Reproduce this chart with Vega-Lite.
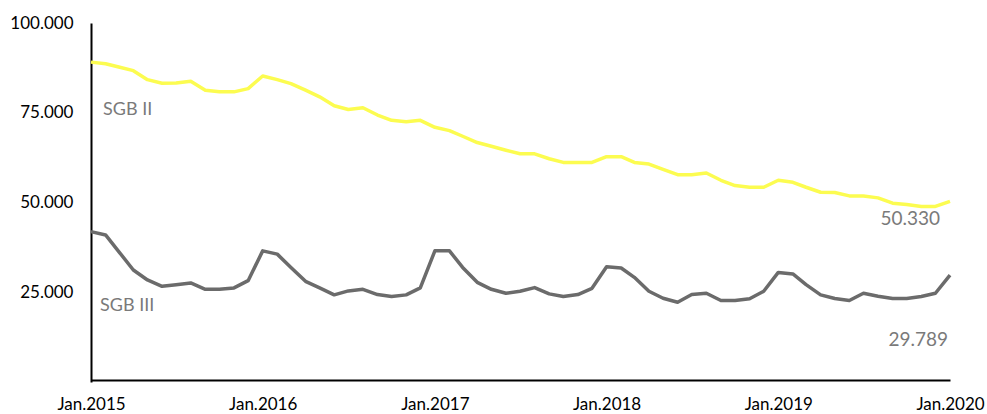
{
  "$schema": "https://vega.github.io/schema/vega-lite/v6.json",
  "width": 859,
  "height": 359,
  "autosize": "none",
  "padding": {"left": 91, "top": 23, "right": 37, "bottom": 32},
  "config": {
    "view": {"stroke": null},
    "font": "Lato",
    "locale": {"number": {"decimal": ",", "thousands": ".", "grouping": [3], "currency": ["", " €"]}}
  },
  "data": {"values": [
    {"date": "2015-01-01", "series": "SGB II", "value": 89100},
    {"date": "2015-02-01", "series": "SGB II", "value": 88650},
    {"date": "2015-03-01", "series": "SGB II", "value": 87740},
    {"date": "2015-04-01", "series": "SGB II", "value": 86720},
    {"date": "2015-05-01", "series": "SGB II", "value": 84220},
    {"date": "2015-06-01", "series": "SGB II", "value": 83220},
    {"date": "2015-07-01", "series": "SGB II", "value": 83300},
    {"date": "2015-08-01", "series": "SGB II", "value": 83780},
    {"date": "2015-09-01", "series": "SGB II", "value": 81290},
    {"date": "2015-10-01", "series": "SGB II", "value": 80820},
    {"date": "2015-11-01", "series": "SGB II", "value": 80820},
    {"date": "2015-12-01", "series": "SGB II", "value": 81730},
    {"date": "2016-01-01", "series": "SGB II", "value": 85250},
    {"date": "2016-02-01", "series": "SGB II", "value": 84220},
    {"date": "2016-03-01", "series": "SGB II", "value": 83110},
    {"date": "2016-04-01", "series": "SGB II", "value": 81290},
    {"date": "2016-05-01", "series": "SGB II", "value": 79430},
    {"date": "2016-06-01", "series": "SGB II", "value": 76940},
    {"date": "2016-07-01", "series": "SGB II", "value": 75920},
    {"date": "2016-08-01", "series": "SGB II", "value": 76390},
    {"date": "2016-09-01", "series": "SGB II", "value": 74370},
    {"date": "2016-10-01", "series": "SGB II", "value": 72880},
    {"date": "2016-11-01", "series": "SGB II", "value": 72520},
    {"date": "2016-12-01", "series": "SGB II", "value": 72880},
    {"date": "2017-01-01", "series": "SGB II", "value": 70940},
    {"date": "2017-02-01", "series": "SGB II", "value": 70020},
    {"date": "2017-03-01", "series": "SGB II", "value": 68450},
    {"date": "2017-04-01", "series": "SGB II", "value": 66700},
    {"date": "2017-05-01", "series": "SGB II", "value": 65680},
    {"date": "2017-06-01", "series": "SGB II", "value": 64570},
    {"date": "2017-07-01", "series": "SGB II", "value": 63570},
    {"date": "2017-08-01", "series": "SGB II", "value": 63570},
    {"date": "2017-09-01", "series": "SGB II", "value": 62190},
    {"date": "2017-10-01", "series": "SGB II", "value": 61170},
    {"date": "2017-11-01", "series": "SGB II", "value": 61170},
    {"date": "2017-12-01", "series": "SGB II", "value": 61170},
    {"date": "2018-01-01", "series": "SGB II", "value": 62750},
    {"date": "2018-02-01", "series": "SGB II", "value": 62750},
    {"date": "2018-03-01", "series": "SGB II", "value": 61170},
    {"date": "2018-04-01", "series": "SGB II", "value": 60700},
    {"date": "2018-05-01", "series": "SGB II", "value": 59230},
    {"date": "2018-06-01", "series": "SGB II", "value": 57760},
    {"date": "2018-07-01", "series": "SGB II", "value": 57760},
    {"date": "2018-08-01", "series": "SGB II", "value": 58210},
    {"date": "2018-09-01", "series": "SGB II", "value": 56190},
    {"date": "2018-10-01", "series": "SGB II", "value": 54720},
    {"date": "2018-11-01", "series": "SGB II", "value": 54250},
    {"date": "2018-12-01", "series": "SGB II", "value": 54250},
    {"date": "2019-01-01", "series": "SGB II", "value": 56190},
    {"date": "2019-02-01", "series": "SGB II", "value": 55630},
    {"date": "2019-03-01", "series": "SGB II", "value": 54250},
    {"date": "2019-04-01", "series": "SGB II", "value": 52860},
    {"date": "2019-05-01", "series": "SGB II", "value": 52780},
    {"date": "2019-06-01", "series": "SGB II", "value": 51840},
    {"date": "2019-07-01", "series": "SGB II", "value": 51840},
    {"date": "2019-08-01", "series": "SGB II", "value": 51290},
    {"date": "2019-09-01", "series": "SGB II", "value": 49820},
    {"date": "2019-10-01", "series": "SGB II", "value": 49460},
    {"date": "2019-11-01", "series": "SGB II", "value": 48910},
    {"date": "2019-12-01", "series": "SGB II", "value": 48910},
    {"date": "2020-01-01", "series": "SGB II", "value": 50330},
    {"date": "2015-01-01", "series": "SGB III", "value": 41880},
    {"date": "2015-02-01", "series": "SGB III", "value": 40960},
    {"date": "2015-03-01", "series": "SGB III", "value": 36340},
    {"date": "2015-04-01", "series": "SGB III", "value": 31190},
    {"date": "2015-05-01", "series": "SGB III", "value": 28420},
    {"date": "2015-06-01", "series": "SGB III", "value": 26650},
    {"date": "2015-07-01", "series": "SGB III", "value": 27120},
    {"date": "2015-08-01", "series": "SGB III", "value": 27590},
    {"date": "2015-09-01", "series": "SGB III", "value": 25820},
    {"date": "2015-10-01", "series": "SGB III", "value": 25820},
    {"date": "2015-11-01", "series": "SGB III", "value": 26210},
    {"date": "2015-12-01", "series": "SGB III", "value": 28230},
    {"date": "2016-01-01", "series": "SGB III", "value": 36530},
    {"date": "2016-02-01", "series": "SGB III", "value": 35620},
    {"date": "2016-03-01", "series": "SGB III", "value": 31910},
    {"date": "2016-04-01", "series": "SGB III", "value": 28040},
    {"date": "2016-05-01", "series": "SGB III", "value": 26210},
    {"date": "2016-06-01", "series": "SGB III", "value": 24270},
    {"date": "2016-07-01", "series": "SGB III", "value": 25380},
    {"date": "2016-08-01", "series": "SGB III", "value": 25820},
    {"date": "2016-09-01", "series": "SGB III", "value": 24360},
    {"date": "2016-10-01", "series": "SGB III", "value": 23800},
    {"date": "2016-11-01", "series": "SGB III", "value": 24270},
    {"date": "2016-12-01", "series": "SGB III", "value": 26210},
    {"date": "2017-01-01", "series": "SGB III", "value": 36530},
    {"date": "2017-02-01", "series": "SGB III", "value": 36530},
    {"date": "2017-03-01", "series": "SGB III", "value": 31910},
    {"date": "2017-04-01", "series": "SGB III", "value": 27760},
    {"date": "2017-05-01", "series": "SGB III", "value": 25820},
    {"date": "2017-06-01", "series": "SGB III", "value": 24720},
    {"date": "2017-07-01", "series": "SGB III", "value": 25270},
    {"date": "2017-08-01", "series": "SGB III", "value": 26300},
    {"date": "2017-09-01", "series": "SGB III", "value": 24550},
    {"date": "2017-10-01", "series": "SGB III", "value": 23800},
    {"date": "2017-11-01", "series": "SGB III", "value": 24360},
    {"date": "2017-12-01", "series": "SGB III", "value": 26100},
    {"date": "2018-01-01", "series": "SGB III", "value": 32110},
    {"date": "2018-02-01", "series": "SGB III", "value": 31750},
    {"date": "2018-03-01", "series": "SGB III", "value": 29150},
    {"date": "2018-04-01", "series": "SGB III", "value": 25270},
    {"date": "2018-05-01", "series": "SGB III", "value": 23330},
    {"date": "2018-06-01", "series": "SGB III", "value": 22230},
    {"date": "2018-07-01", "series": "SGB III", "value": 24360},
    {"date": "2018-08-01", "series": "SGB III", "value": 24720},
    {"date": "2018-09-01", "series": "SGB III", "value": 22700},
    {"date": "2018-10-01", "series": "SGB III", "value": 22700},
    {"date": "2018-11-01", "series": "SGB III", "value": 23170},
    {"date": "2018-12-01", "series": "SGB III", "value": 25270},
    {"date": "2019-01-01", "series": "SGB III", "value": 30530},
    {"date": "2019-02-01", "series": "SGB III", "value": 30090},
    {"date": "2019-03-01", "series": "SGB III", "value": 27120},
    {"date": "2019-04-01", "series": "SGB III", "value": 24270},
    {"date": "2019-05-01", "series": "SGB III", "value": 23250},
    {"date": "2019-06-01", "series": "SGB III", "value": 22700},
    {"date": "2019-07-01", "series": "SGB III", "value": 24720},
    {"date": "2019-08-01", "series": "SGB III", "value": 23890},
    {"date": "2019-09-01", "series": "SGB III", "value": 23250},
    {"date": "2019-10-01", "series": "SGB III", "value": 23250},
    {"date": "2019-11-01", "series": "SGB III", "value": 23800},
    {"date": "2019-12-01", "series": "SGB III", "value": 24720},
    {"date": "2020-01-01", "series": "SGB III", "value": 29789}
  ]},
  "encoding": {
    "x": {
      "field": "date", "type": "temporal",
      "scale": {"type": "utc", "domain": [{"year": 2015, "month": 1, "date": 1, "utc": true}, {"year": 2020, "month": 1, "date": 1, "utc": true}], "nice": false},
      "axis": {
        "title": null,
        "labelExpr": "utcFormat(datum.value, '%b.%Y')",
        "tickCount": {"interval": "year", "step": 1},
        "grid": false, "ticks": false,
        "domainColor": "#000000", "domainWidth": 2, "offset": -2,
        "labelFontSize": 17, "labelColor": "#000000", "labelPadding": 16,
        "labelFont": "Lato", "labelOverlap": false, "labelFlush": false
      }
    },
    "y": {
      "field": "value", "type": "quantitative",
      "scale": {"domain": [0, 100000], "nice": false, "zero": true},
      "axis": {
        "title": null, "values": [25000, 50000, 75000, 100000], "format": ",.0f",
        "grid": false, "ticks": false,
        "domainColor": "#000000", "domainWidth": 2,
        "labelFontSize": 17, "labelColor": "#000000", "labelPadding": 18,
        "labelFont": "Lato"
      }
    }
  },
  "layer": [
    {
      "mark": {"type": "line", "strokeWidth": 3.5, "strokeJoin": "round"},
      "encoding": {
        "color": {"field": "series", "type": "nominal", "legend": null,
          "scale": {"domain": ["SGB II", "SGB III"], "range": ["#fcfc50", "#6b6b6b"]}}
      }
    },
    {
      "transform": [{"filter": "datum.series == 'SGB II' && utcyear(datum.date) == 2015 && utcmonth(datum.date) == 0"}],
      "mark": {"type": "text", "align": "left", "baseline": "middle", "dx": 12, "dy": 48, "fontSize": 18, "color": "#7a7a7a", "font": "Lato"},
      "encoding": {"text": {"field": "series"}}
    },
    {
      "transform": [{"filter": "datum.series == 'SGB III' && utcyear(datum.date) == 2015 && utcmonth(datum.date) == 0"}],
      "mark": {"type": "text", "align": "left", "baseline": "middle", "dx": 9, "dy": 74, "fontSize": 18, "color": "#7a7a7a", "font": "Lato"},
      "encoding": {"text": {"field": "series"}}
    },
    {
      "transform": [{"filter": "datum.series == 'SGB II' && utcyear(datum.date) == 2020"}],
      "mark": {"type": "text", "align": "right", "baseline": "middle", "dx": -10, "dy": 18, "fontSize": 19, "color": "#7a7a7a", "font": "Lato"},
      "encoding": {"text": {"field": "value", "type": "quantitative", "format": ",.0f"}}
    },
    {
      "transform": [{"filter": "datum.series == 'SGB III' && utcyear(datum.date) == 2020"}],
      "mark": {"type": "text", "align": "right", "baseline": "middle", "dx": -2, "dy": 65, "fontSize": 19, "color": "#7a7a7a", "font": "Lato"},
      "encoding": {"text": {"field": "value", "type": "quantitative", "format": ",.0f"}}
    }
  ]
}
